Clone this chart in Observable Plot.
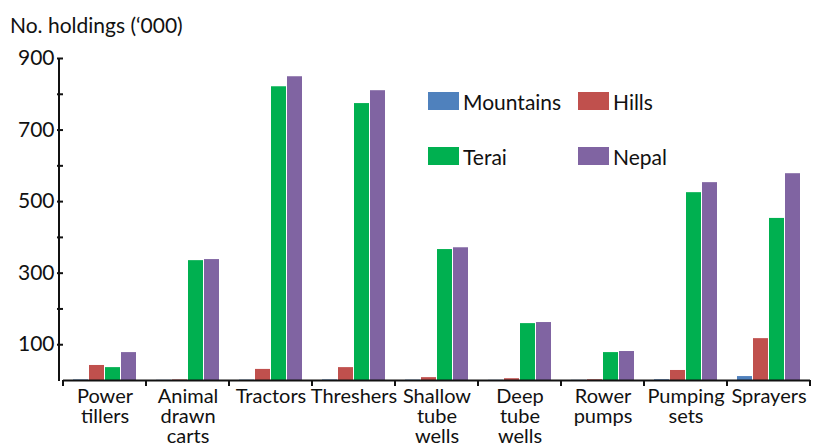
<!DOCTYPE html>
<html>
<head>
<meta charset="utf-8">
<script src="https://cdn.jsdelivr.net/npm/d3@7"></script>
<script src="https://cdn.jsdelivr.net/npm/@observablehq/plot@0.6"></script>
<style>
  html, body { margin: 0; padding: 0; background: #fff; }
  #wrap { position: relative; width: 814px; height: 444px; overflow: hidden; font-family: Lato, "Open Sans", sans-serif; color: #111; }
  #title { position: absolute; left: 10px; top: 14px; font-size: 21px; line-height: 21px; white-space: nowrap; }
  #chart { position: absolute; left: 0; top: 45px; }
  #legend { position: absolute; left: 428px; top: 89px; display: grid; grid-template-columns: 150px 150px; row-gap: 31px; }
  .item { display: flex; align-items: center; height: 24px; font-size: 21px; }
  .sw { width: 31px; height: 18px; margin-right: 4px; flex: none; }
</style>
</head>
<body>
<div id="wrap">
  <div id="title">No. holdings (‘000)</div>
  <div id="chart"></div>
  <div id="legend"></div>
</div>
<script>
const categories = ["Power\ntillers", "Animal\ndrawn\ncarts", "Tractors", "Threshers", "Shallow\ntube\nwells", "Deep\ntube\nwells", "Rower\npumps", "Pumping\nsets", "Sprayers"];
const series = ["Mountains", "Hills", "Terai", "Nepal"];
const colors = ["#4F81BD", "#C0504D", "#00B050", "#8064A2"];
const mountains = [1.5, 0.5, 1, 1.5, 1, 0.5, 0.5, 2, 11];
const hills = [42, 1.5, 31, 36, 8, 5, 2, 28, 117];
const terai = [36, 335, 821, 774, 366, 159, 78, 525, 453];
const nepal = [78, 338, 849, 810, 371, 162, 81, 553, 578];
const yTicks = [100, 200, 300, 400, 500, 600, 700, 800, 900];
const yLabels = [100, 300, 500, 700, 900];

const valuesBySeries = [mountains, hills, terai, nepal];
const data = [];
categories.forEach((c, i) => {
  series.forEach((s, j) => data.push({category: c, series: s, value: valuesBySeries[j][i]}));
});

const chart = Plot.plot({
  width: 814,
  height: 399,
  marginTop: 13,
  marginBottom: 64,
  marginLeft: 59,
  marginRight: 1,
  style: {fontFamily: "Lato, 'Open Sans', sans-serif", fontSize: "21px", color: "#111", background: "#fff"},
  fx: {domain: categories, paddingInner: 0, paddingOuter: 0, label: null},
  x: {domain: series, paddingInner: 0.06, paddingOuter: 0.5, axis: null},
  y: {domain: [0, 900], label: null},
  color: {domain: series, range: colors},
  marks: [
    Plot.barY(data, {fx: "category", x: "series", y: "value", fill: "series"}),
    Plot.ruleY([0], {stroke: "#111", strokeWidth: 2}),
    Plot.axisY({ticks: yTicks, tickFormat: d => yLabels.includes(d) ? String(d) : "", tickSize: 6, tickPadding: 3, stroke: "#111", strokeWidth: 2, fontSize: 21, label: null}),
    Plot.axisFx({anchor: "bottom", tickSize: 0, tickPadding: 8, lineHeight: 1, fontSize: 20, label: null})
  ]
});

// Axis line and group boundary ticks, positioned from the library's own scales
const fx = chart.scale("fx");
const ys = chart.scale("y");
const svg = d3.select(chart.tagName === "svg" ? chart : chart.querySelector("svg"));
const y0 = ys.apply(0), yTop = ys.apply(900);
const left = fx.range[0];
const g = svg.append("g").attr("stroke", "#111").attr("stroke-width", 2);
g.append("line").attr("x1", left).attr("x2", left).attr("y1", y0 + 1).attr("y2", yTop);
const edges = fx.domain.map(c => fx.apply(c)).concat([fx.apply(fx.domain[fx.domain.length - 1]) + fx.bandwidth]);
edges.forEach(x => {
  g.append("line").attr("x1", x).attr("x2", x).attr("y1", y0).attr("y2", y0 + 6);
});

document.getElementById("chart").appendChild(chart);

const legend = document.getElementById("legend");
series.forEach((s, i) => {
  const item = document.createElement("div");
  item.className = "item";
  const sw = document.createElement("span");
  sw.className = "sw";
  sw.style.background = colors[i];
  item.appendChild(sw);
  item.appendChild(document.createTextNode(s));
  legend.appendChild(item);
});
</script>
</body>
</html>
